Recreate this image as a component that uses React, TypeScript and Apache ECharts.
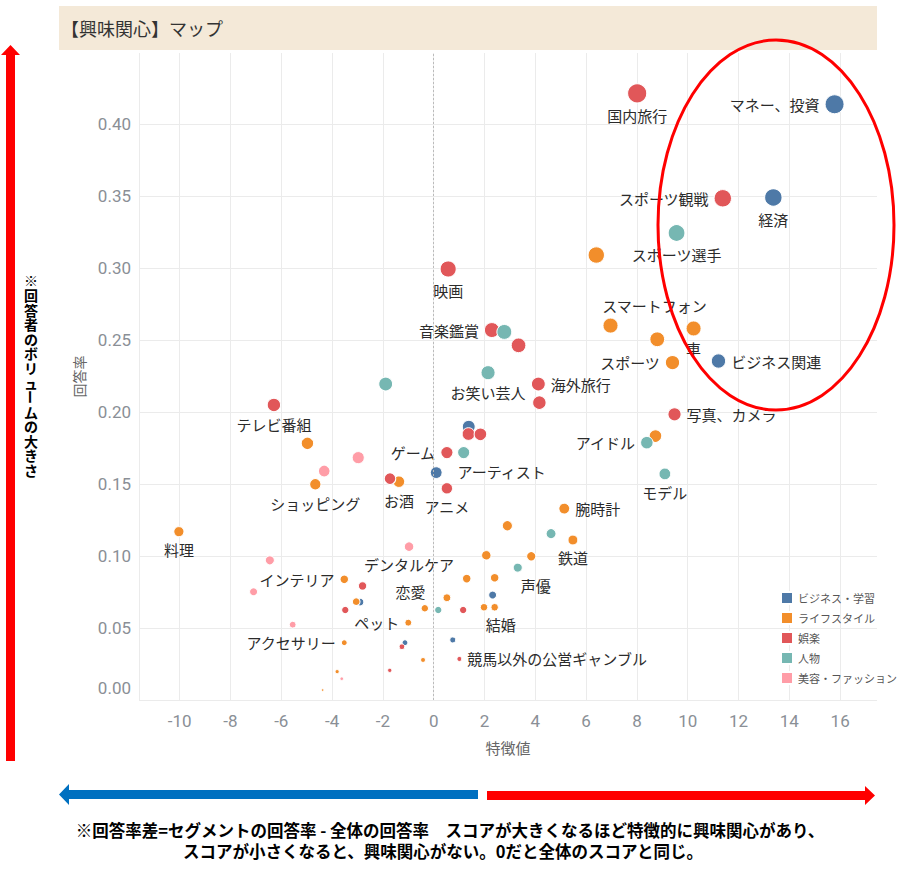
import React, { useEffect, useRef } from "react";
import * as echarts from "echarts";

type Pt = [string, number, number];

const categories = ["ビジネス・学習", "ライフスタイル", "娯楽", "人物", "美容・ファッション"];
const colors = ["#4e79a7", "#f28e2b", "#e15759", "#76b7b2", "#ff9da7"];

const business: Pt[] = [
  ["マネー、投資", 15.78, 0.4137],
  ["経済", 13.37, 0.349],
  ["ビジネス関連", 11.21, 0.2354],
  ["", 1.38, 0.1898],
  ["", 0.1, 0.1579],
  ["", -2.9, 0.068],
  ["", 2.32, 0.0729],
  ["", -1.13, 0.0398],
  ["", 0.75, 0.0417],
];

const lifestyle: Pt[] = [
  ["", 6.4, 0.309],
  ["スマートフォン", 6.96, 0.26],
  ["車", 10.23, 0.258],
  ["", 8.8, 0.2505],
  ["スポーツ", 9.4, 0.2343],
  ["", 8.73, 0.1833],
  ["", -4.97, 0.1782],
  ["ショッピング", -4.66, 0.1498],
  ["お酒", -1.37, 0.1516],
  ["腕時計", 5.14, 0.1329],
  ["", 2.9, 0.121],
  ["鉄道", 5.48, 0.1111],
  ["", 2.07, 0.1005],
  ["", 3.84, 0.0998],
  ["料理", -10.03, 0.1169],
  ["インテリア", -3.52, 0.0838],
  ["", -3.05, 0.0683],
  ["恋愛", 0.52, 0.071],
  ["", -0.35, 0.0637],
  ["", 1.98, 0.0644],
  ["結婚", 2.4, 0.0644],
  ["", 1.3, 0.0843],
  ["", 2.4, 0.0849],
  ["ペット", -1.0, 0.0537],
  ["アクセサリー", -3.52, 0.0398],
  ["", -0.42, 0.0278],
  ["", -3.8, 0.0197],
  ["", -4.37, 0.0069],
];

const entertainment: Pt[] = [
  ["国内旅行", 8.01, 0.4213],
  ["スポーツ観戦", 11.38, 0.3484],
  ["映画", 0.57, 0.2993],
  ["音楽鑑賞", 2.29, 0.2569],
  ["", 3.34, 0.2463],
  ["海外旅行", 4.12, 0.2194],
  ["", 4.16, 0.2065],
  ["写真、カメラ", 9.48, 0.1984],
  ["テレビ番組", -6.29, 0.2049],
  ["", 1.37, 0.1847],
  ["", 1.84, 0.1845],
  ["ゲーム", 0.52, 0.1718],
  ["アニメ", 0.52, 0.147],
  ["", -1.72, 0.1537],
  ["", -2.8, 0.0792],
  ["", -3.48, 0.0625],
  ["", 1.16, 0.0625],
  ["", -1.25, 0.037],
  ["競馬以外の公営ギャンブル", 1.01, 0.0285],
  ["", -1.73, 0.0206],
];

const people: Pt[] = [
  ["スポーツ選手", 9.56, 0.3243],
  ["", 2.78, 0.2556],
  ["お笑い芸人", 2.14, 0.2273],
  ["", -1.89, 0.2194],
  ["アーティスト", 1.18, 0.1718],
  ["アイドル", 8.39, 0.1787],
  ["モデル", 9.1, 0.157],
  ["", 4.62, 0.1155],
  ["声優", 3.31, 0.0919],
  ["", 0.18, 0.0625],
];

const beauty: Pt[] = [
  ["", -2.97, 0.1683],
  ["", -4.31, 0.159],
  ["デンタルケア", -0.97, 0.1065],
  ["", -6.45, 0.097],
  ["", -7.09, 0.0752],
  ["", -5.55, 0.0523],
  ["", -3.62, 0.0148],
];

const groups: Pt[][] = [business, lifestyle, entertainment, people, beauty];

const titleText = "【興味関心】マップ";
const xAxisName = "特徴値";
const yAxisName = "回答率";
const sideNoteA = "※回答者のボリュ";
const sideNoteDash = "ー";
const sideNoteB = "ムの大きさ";
const footLine1 = "※回答率差=セグメントの回答率 - 全体の回答率　スコアが大きくなるほど特徴的に興味関心があり、";
const footLine2 = "スコアが小さくなると、興味関心がない。0だと全体のスコアと同じ。";

// label placement (style only)
const labelPlace: Record<string, [string, number, number]> = {
  "マネー、投資": ["left", 0, 0],
  "経済": ["bottom", 0, 0],
  "ビジネス関連": ["right", 0, 0],
  "スマートフォン": ["top", 44, 0],
  "車": ["bottom", 0, 0],
  "スポーツ": ["left", 0, 0],
  "ショッピング": ["bottom", 0, 0],
  "お酒": ["bottom", 0, 0],
  "腕時計": ["right", 0, 0],
  "鉄道": ["bottom", 0, 0],
  "料理": ["bottom", 0, 0],
  "インテリア": ["left", 0, 0],
  "恋愛": ["left", -12, -6],
  "結婚": ["bottom", 6, 0],
  "ペット": ["left", 0, 0],
  "アクセサリー": ["left", 0, 0],
  "国内旅行": ["bottom", 0, 0],
  "スポーツ観戦": ["left", 0, 0],
  "映画": ["bottom", 0, 0],
  "音楽鑑賞": ["left", 0, 0],
  "海外旅行": ["right", 0, 0],
  "写真、カメラ": ["right", 0, 0],
  "テレビ番組": ["bottom", 0, 0],
  "ゲーム": ["left", 0, 0],
  "アニメ": ["bottom", 0, 0],
  "競馬以外の公営ギャンブル": ["right", 0, 0],
  "スポーツ選手": ["bottom", 0, 0],
  "お笑い芸人": ["bottom", 0, 0],
  "アーティスト": ["bottom", 38, 0],
  "アイドル": ["left", 0, 0],
  "モデル": ["bottom", 0, 0],
  "声優": ["bottom", 18, 0],
  "デンタルケア": ["bottom", 0, 0],
};

const FONT = "'Noto Sans CJK JP', 'Noto Sans', sans-serif";
const STEP = 14.6;

export default function App() {
  const ref = useRef<HTMLDivElement>(null);

  useEffect(() => {
    document.body.style.margin = "0";
    if (!ref.current) return;
    const chart = echarts.init(ref.current, undefined, { renderer: "svg" });

    const series: any[] = groups.map((g, gi) => ({
      name: categories[gi],
      type: "scatter",
      symbol: "circle",
      symbolSize: (v: number[]) => Math.sqrt(v[1]) * 29.5,
      itemStyle: { color: colors[gi], borderColor: "#ffffff", borderWidth: 1, opacity: 1 },
      emphasis: { disabled: true },
      data: g.map(([name, x, y]) => {
        const item: any = { name, value: [x, y] };
        if (name && labelPlace[name]) {
          const [pos, dx, dy] = labelPlace[name];
          item.label = {
            show: true,
            position: pos,
            offset: [dx, dy],
            distance: 5,
            formatter: "{b}",
            color: "#2b2b2b",
            fontSize: 15,
            fontFamily: FONT,
          };
        }
        return item;
      }),
      ...(gi === 0
        ? {
            markLine: {
              silent: true,
              symbol: "none",
              label: { show: false },
              lineStyle: { color: "#bbbbbb", type: [2, 2], width: 1 },
              data: [{ xAxis: 0 }],
            },
          }
        : {}),
    }));

    const nA = Array.from(sideNoteA).length;
    const sideStyle = (text: string) => ({
      text,
      fill: "#000",
      font: `bold 14px ${FONT}`,
      lineHeight: STEP,
      align: "center",
      verticalAlign: "top",
    });

    chart.setOption({
      animation: false,
      textStyle: { fontFamily: FONT },
      grid: { left: 139, right: 22, top: 53, bottom: 171, containLabel: false },
      legend: {
        orient: "vertical",
        left: 775,
        top: 586,
        itemWidth: 12,
        itemHeight: 12,
        itemGap: 6,
        icon: "rect",
        textStyle: { color: "#555", fontSize: 11, fontFamily: FONT },
        data: categories,
      },
      xAxis: {
        type: "value",
        min: -11.6,
        max: 17.45,
        splitNumber: 14,
        name: xAxisName,
        nameLocation: "middle",
        nameGap: 40,
        nameTextStyle: { color: "#666", fontSize: 15, fontFamily: FONT },
        axisLine: { show: false },
        axisTick: { show: false },
        axisLabel: {
          color: "#8a8f96",
          fontSize: 17,
          fontFamily: "Roboto, 'Noto Sans', sans-serif",
          margin: 12,
          showMinLabel: false,
          showMaxLabel: false,
          formatter: (v: number) => String(Math.round(v)),
        },
        splitLine: { show: true, showMaxLine: false, lineStyle: { color: "#ebebeb", width: 1 } },
      },
      yAxis: {
        type: "value",
        min: 0,
        max: 0.4493,
        interval: 0.05,
        name: yAxisName,
        nameLocation: "middle",
        nameGap: 53,
        nameTextStyle: { color: "#666", fontSize: 14, fontFamily: FONT },
        axisLine: { show: false },
        axisTick: { show: false },
        axisLabel: {
          color: "#8a8f96",
          fontSize: 17,
          lineHeight: 24,
          fontFamily: "Roboto, 'Noto Sans', sans-serif",
          margin: 8,
          showMaxLabel: false,
          formatter: (v: number) => (v === 0 ? "0.00\n " : v.toFixed(2)),
        },
        splitLine: { show: true, showMaxLine: false, lineStyle: { color: "#ebebeb", width: 1 } },
      },
      series,
      graphic: [
        {
          type: "rect",
          shape: { x: 59, y: 6, width: 818, height: 44 },
          style: { fill: "#f4e9d8" },
          z: -1,
        },
        {
          type: "text",
          x: 61,
          y: 28,
          style: {
            text: titleText,
            fill: "#333",
            font: `18px ${FONT}`,
            verticalAlign: "middle",
          },
        },
        {
          type: "ellipse",
          shape: { cx: 776, cy: 225, rx: 118, ry: 185 },
          style: { fill: "none", stroke: "#ff0000", lineWidth: 3 },
          z: 10,
        },
        {
          type: "polygon",
          shape: {
            points: [
              [10.5, 45], [20, 55], [15, 55], [15, 761], [6, 761], [6, 55], [1, 55],
            ],
          },
          style: { fill: "#ff0000" },
        },
        {
          type: "polygon",
          shape: {
            points: [
              [59, 794.5], [69, 784], [69, 790], [478, 790], [478, 799], [69, 799], [69, 805],
            ],
          },
          style: { fill: "#0070c0" },
        },
        {
          type: "polygon",
          shape: {
            points: [
              [487, 791], [865, 791], [865, 786], [875, 795.5], [865, 805], [865, 800], [487, 800],
            ],
          },
          style: { fill: "#ff0000" },
        },
        {
          type: "text",
          x: 31,
          y: 273,
          style: sideStyle(Array.from(sideNoteA).join("\n")),
        },
        {
          type: "text",
          x: 31,
          y: 273 + nA * STEP + STEP / 2,
          rotation: -Math.PI / 2,
          style: {
            text: sideNoteDash,
            fill: "#000",
            font: `bold 14px ${FONT}`,
            align: "center",
            verticalAlign: "middle",
          },
        },
        {
          type: "text",
          x: 31,
          y: 273 + (nA + 1) * STEP,
          style: sideStyle(Array.from(sideNoteB).join("\n")),
        },
        {
          type: "text",
          x: 450,
          y: 830,
          style: {
            text: footLine1,
            fill: "#000",
            font: `bold 16.5px ${FONT}`,
            align: "center",
            verticalAlign: "middle",
          },
        },
        {
          type: "text",
          x: 443,
          y: 851,
          style: {
            text: footLine2,
            fill: "#000",
            font: `bold 16.5px ${FONT}`,
            align: "center",
            verticalAlign: "middle",
          },
        },
      ],
    });

    return () => chart.dispose();
  }, []);

  return <div ref={ref} style={{ width: 899, height: 871 }} />;
}
